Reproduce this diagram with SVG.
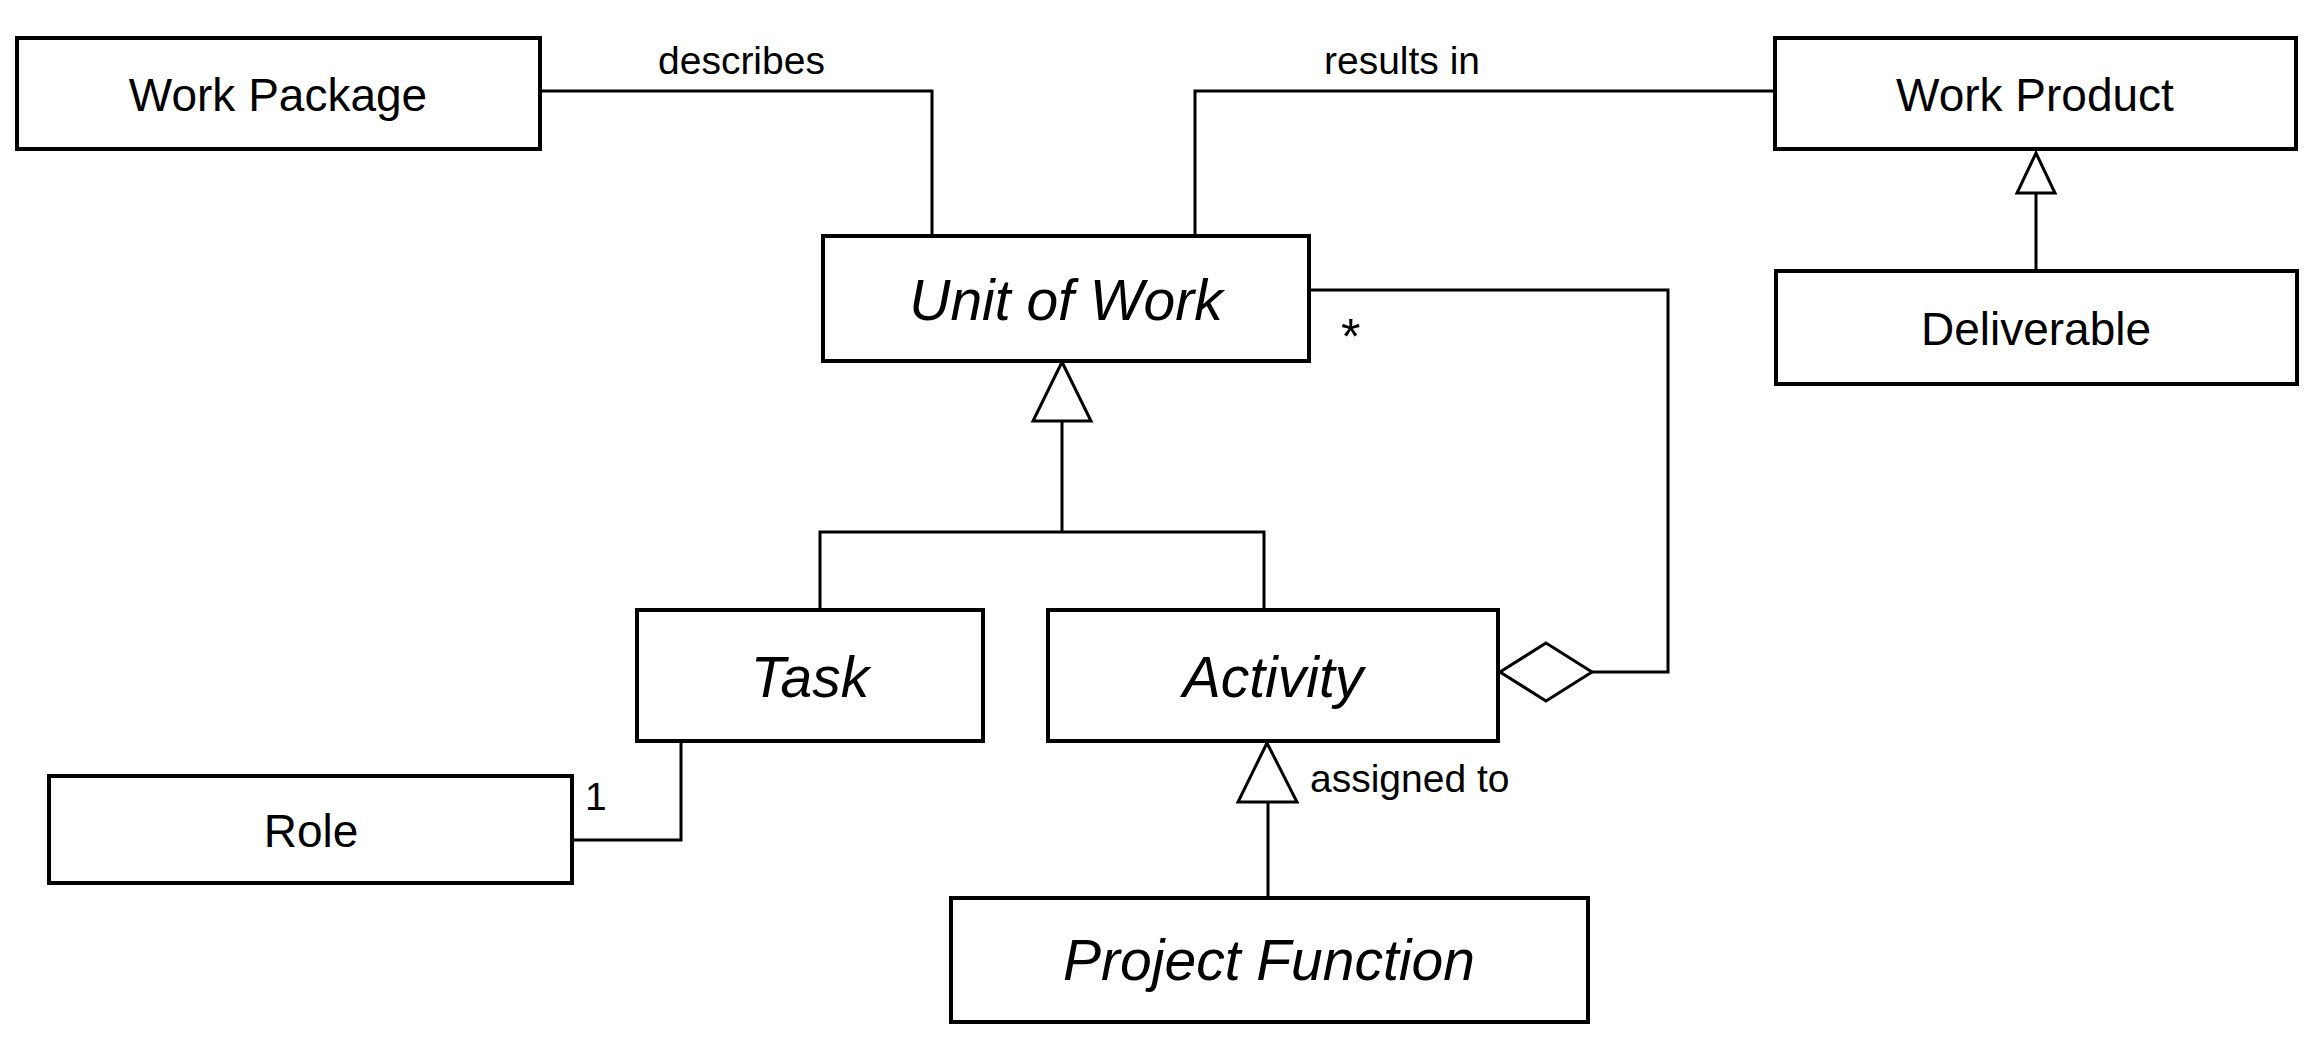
<svg xmlns="http://www.w3.org/2000/svg" width="2318" height="1062" viewBox="0 0 2318 1062">
<style>
.box{fill:#fff;stroke:#000;stroke-width:4}
.ln{fill:none;stroke:#000;stroke-width:3}
.head{fill:#fff;stroke:#000;stroke-width:3;stroke-linejoin:miter}
.nt{font-family:"Liberation Sans",Arial,sans-serif;font-size:46px;text-anchor:middle;fill:#000}
.it{font-family:"Liberation Sans",Arial,sans-serif;font-size:57px;font-style:italic;text-anchor:middle;fill:#000}
.lb{font-family:"Liberation Sans",Arial,sans-serif;font-size:39px;fill:#000}
</style>
<rect width="2318" height="1062" fill="#fff"/>
<g id="connectors">
<polyline class="ln" points="540,91 932,91 932,236"/>
<polyline class="ln" points="1775,91 1195,91 1195,236"/>
<polyline class="ln" points="1062,421 1062,532"/>
<polyline class="ln" points="820,610 820,532 1264,532 1264,610"/>
<polygon class="head" points="1062,362 1033,421 1091,421"/>
<polyline class="ln" points="2036,193 2036,271"/>
<polygon class="head" points="2036,153 2017,193 2055,193"/>
<polyline class="ln" points="1268,802 1268,898"/>
<polygon class="head" points="1267,743 1238,802 1297,802"/>
<polyline class="ln" points="1309,290 1668,290 1668,672 1592,672"/>
<polygon class="head" points="1500,672 1546,643 1592,672 1546,701"/>
<polyline class="ln" points="681,741 681,840 572,840"/>
<text class="lb" x="658" y="74">describes</text>
<text class="lb" x="1324" y="74">results in</text>
<text class="lb" x="1310" y="792">assigned to</text>
<text class="lb" x="585" y="810">1</text>
<text class="lb" x="1341" y="354" style="font-size:50px">*</text>
</g>
<g id="work-package"><rect class="box" x="17" y="38" width="523" height="111"/><text class="nt" x="278" y="111">Work Package</text></g>
<g id="work-product"><rect class="box" x="1775" y="38" width="521" height="111"/><text class="nt" x="2035" y="111">Work Product</text></g>
<g id="deliverable"><rect class="box" x="1776" y="271" width="521" height="113"/><text class="nt" x="2036" y="345">Deliverable</text></g>
<g id="unit-of-work"><rect class="box" x="823" y="236" width="486" height="125"/><text class="it" x="1066" y="320">Unit of Work</text></g>
<g id="task"><rect class="box" x="637" y="610" width="346" height="131"/><text class="it" x="810" y="697">Task</text></g>
<g id="activity"><rect class="box" x="1048" y="610" width="450" height="131"/><text class="it" x="1273" y="697">Activity</text></g>
<g id="role"><rect class="box" x="49" y="776" width="523" height="107"/><text class="nt" x="311" y="847">Role</text></g>
<g id="project-function"><rect class="box" x="951" y="898" width="637" height="124"/><text class="it" x="1269" y="980">Project Function</text></g>
</svg>
